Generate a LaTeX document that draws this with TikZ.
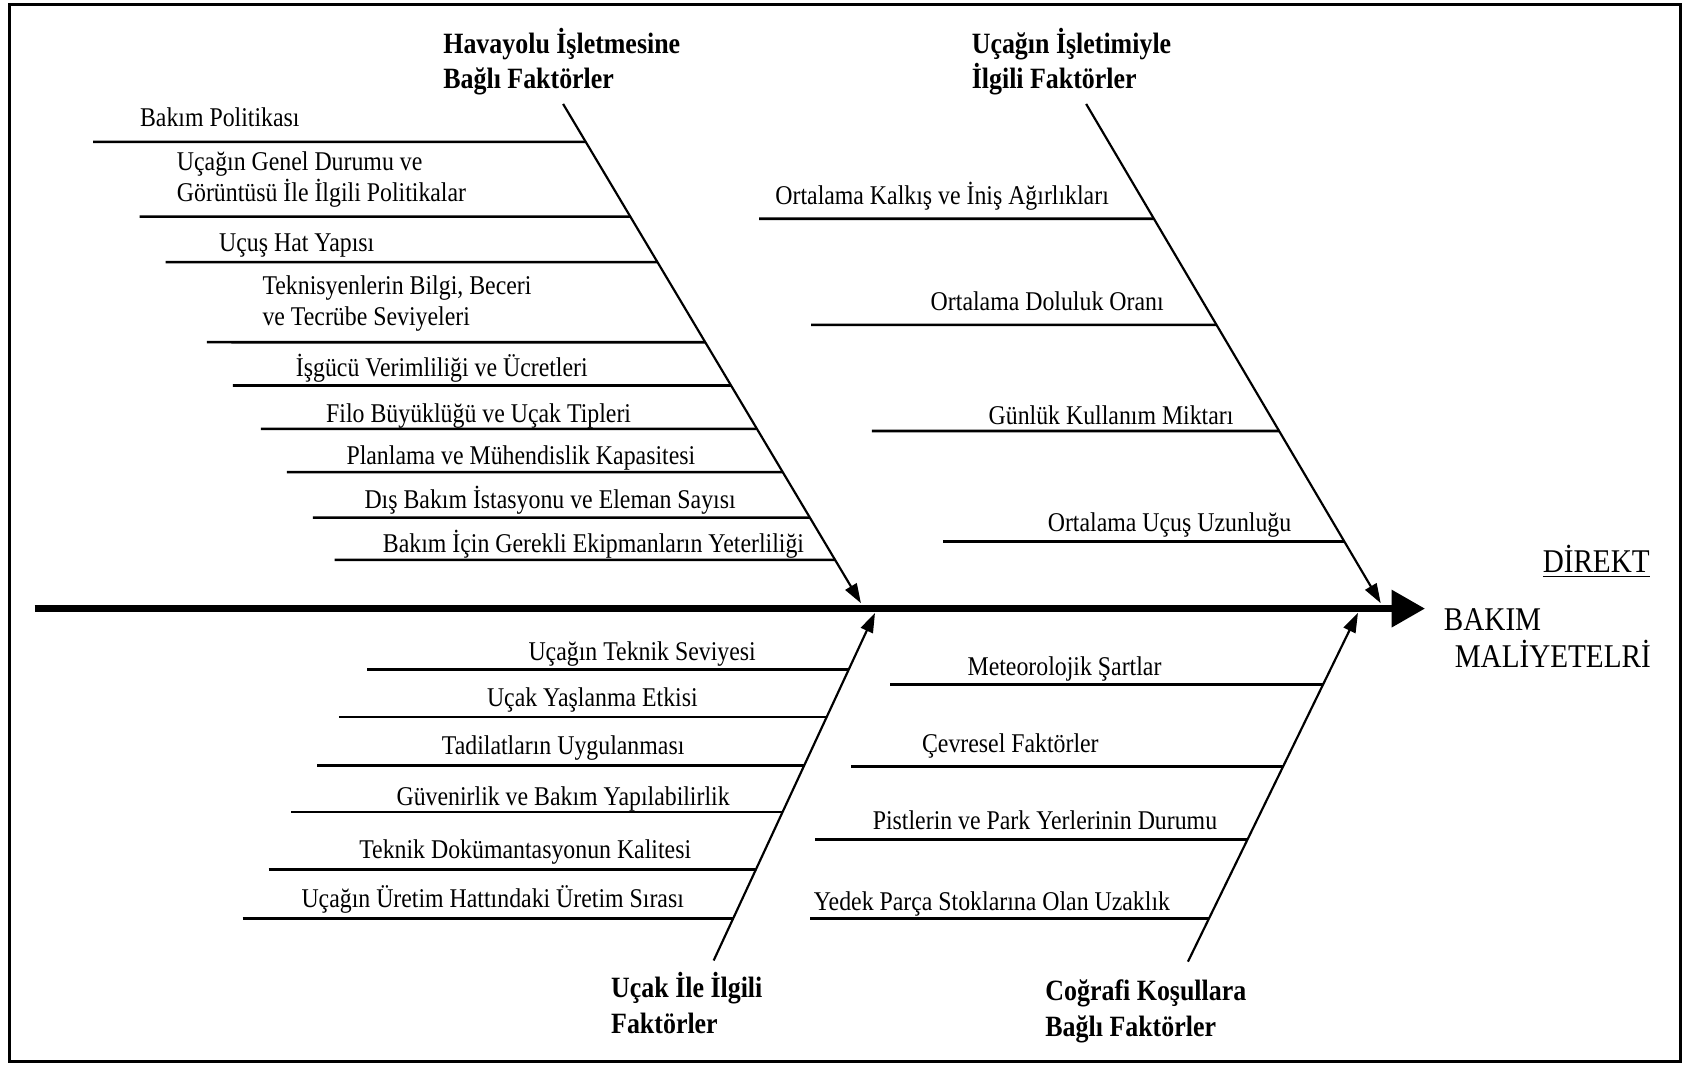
\documentclass[tikz,border=0pt]{standalone}
\usepackage{fontspec}
\setmainfont{Liberation Serif}[FakeStretch=0.88]
\usetikzlibrary{arrows.meta}
\begin{document}
\begin{tikzpicture}[x=0.5pt,y=-0.5pt,
  lbl/.style={font=\fontsize{12.5}{14.5}\selectfont, inner sep=0pt, anchor=base},
  lbll/.style={font=\fontsize{12.5}{14.5}\selectfont, inner sep=0pt, anchor=base west, align=left},
  head/.style={font=\bfseries\fontsize{13.6}{16.5}\selectfont, inner sep=0pt, align=left, anchor=base west},
  eff/.style={font=\fontsize{15.3}{17}\selectfont, inner sep=0pt, anchor=base west},
  rib/.style={line width=1.2pt},
  bone/.style={line width=1pt, -{Triangle[length=9pt,width=6pt]}},
  spine/.style={line width=3.5pt, -{Triangle[length=15.5pt,width=16.5pt]}}
]
\useasboundingbox (0,0) rectangle (1568,984);
\draw[line width=1.2pt] (9,4) rectangle (1552,980);

% spine
\coordinate (tail) at (32,562);
\coordinate (tip) at (1316,562);
\draw[spine] (tail) -- (tip);

% effect
\node[eff, anchor=base] (direkt) at (1474,529) {\underline{DİREKT}};
\node[eff] (bakim) at (1333,582) {BAKIM};
\node[eff] (maliyet) at (1343,616) {MALİYETELRİ};

% bones
\coordinate (tlA) at (520,96);  \coordinate (tlB) at (795,557);
\coordinate (trA) at (1003,96); \coordinate (trB) at (1275,557);
\coordinate (blA) at (659,887); \coordinate (blB) at (808,566);
\coordinate (brA) at (1097,888); \coordinate (brB) at (1254,566);
\draw[bone] (tlA) -- (tlB);
\draw[bone] (trA) -- (trB);
\draw[bone] (blA) -- (blB);
\draw[bone] (brA) -- (brB);

% headings (base = last line)
\node[head] (h1) at (409,82) {Havayolu İşletmesine\\Bağlı Faktörler};
\node[head] (h2) at (897,82) {Uçağın İşletimiyle\\İlgili Faktörler};
\node[head] (h3) at (564,954) {Uçak İle İlgili\\Faktörler};
\node[head] (h4) at (965,957) {Coğrafi Koşullara\\Bağlı Faktörler};

% ribs
\foreach \xl/\yy in {86/131,129/200,153/242,191/316,215/356,241/396,265/436,289/478,309/517}
  \draw[rib] (\xl,\yy) -- (intersection of tlA--tlB and 0,\yy--2000,\yy);
\foreach \xl/\yy in {701/202,749/300,805/398,871/500}
  \draw[rib] (\xl,\yy) -- (intersection of trA--trB and 0,\yy--2000,\yy);
\foreach \xl/\yy in {339/618,313/662,293/707,269/750,248/803,224/848}
  \draw[rib] (\xl,\yy) -- (intersection of blA--blB and 0,\yy--2000,\yy);
\foreach \xl/\yy in {822/632,786/708,753/775,748/848}
  \draw[rib] (\xl,\yy) -- (intersection of brA--brB and 0,\yy--2000,\yy);

% labels top-left
\node[lbl] (a1) at (203,117) {Bakım Politikası};
\node[lbll] (a2) at (163,186) {Uçağın Genel Durumu ve\\Görüntüsü İle İlgili Politikalar};
\node[lbl] (a3) at (274,232) {Uçuş Hat Yapısı};
\node[lbll] (a4) at (242,301) {Teknisyenlerin Bilgi, Beceri\\ve Tecrübe Seviyeleri};
\node[lbl] (a5) at (408,348) {İşgücü Verimliliği ve Ücretleri};
\node[lbl] (a6) at (442,390) {Filo Büyüklüğü ve Uçak Tipleri};
\node[lbl] (a7) at (481,429) {Planlama ve Mühendislik Kapasitesi};
\node[lbl] (a8) at (508,470) {Dış Bakım İstasyonu ve Eleman Sayısı};
\node[lbl] (a9) at (548,510) {Bakım İçin Gerekli Ekipmanların Yeterliliği};

% labels top-right
\node[lbl] (b1) at (870,189) {Ortalama Kalkış ve İniş Ağırlıkları};
\node[lbl] (b2) at (967,287) {Ortalama Doluluk Oranı};
\node[lbl] (b3) at (1026,392) {Günlük Kullanım Miktarı};
\node[lbl] (b4) at (1080,491) {Ortalama Uçuş Uzunluğu};

% labels bottom-left
\node[lbl] (c1) at (593,610) {Uçağın Teknik Seviyesi};
\node[lbl] (c2) at (547,652) {Uçak Yaşlanma Etkisi};
\node[lbl] (c3) at (520,697) {Tadilatların Uygulanması};
\node[lbl] (c4) at (520,744) {Güvenirlik ve Bakım Yapılabilirlik};
\node[lbl] (c5) at (485,793) {Teknik Dokümantasyonun Kalitesi};
\node[lbl] (c6) at (455,838) {Uçağın Üretim Hattındaki Üretim Sırası};

% labels bottom-right
\node[lbl] (d1) at (983,624) {Meteorolojik Şartlar};
\node[lbl] (d2) at (933,695) {Çevresel Faktörler};
\node[lbl] (d3) at (965,766) {Pistlerin ve Park Yerlerinin Durumu};
\node[lbl] (d4) at (916,841) {Yedek Parça Stoklarına Olan Uzaklık};
\end{tikzpicture}
\end{document}
